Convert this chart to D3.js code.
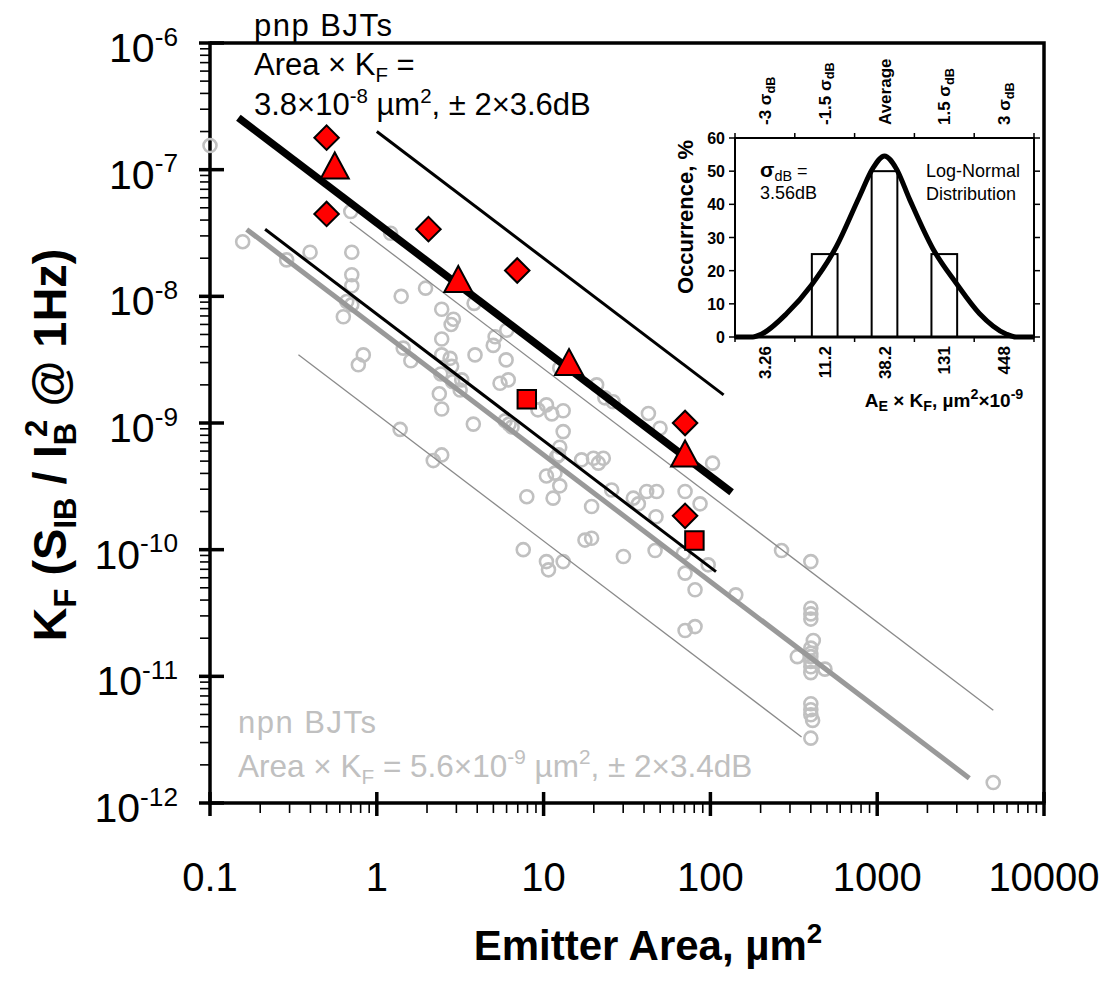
<!DOCTYPE html>
<html>
<head>
<meta charset="utf-8">
<script src="https://cdn.jsdelivr.net/npm/d3@7"></script>
<style>
  body { margin: 0; background: #fff; }
  svg { display: block; font-family: "Liberation Sans", Arial, Helvetica, sans-serif; }
</style>
</head>
<body>
<svg id="chart" width="1111" height="981"></svg>
<script>
// ---------- data ----------
// npn BJTs: emitter area (µm²) and K_F
const npnArea = [0.1, 0.157, 0.288, 0.398, 0.698, 0.708, 0.708, 0.708, 0.66, 0.708, 0.63,
  1.21, 1.40, 1.96, 0.83, 0.775, 2.45, 2.88, 2.79, 3.83, 2.45, 1.44, 1.60, 2.45, 2.75, 3.88,
  5.12, 4.99, 6.01, 5.96, 2.81, 2.42, 2.85, 3.16, 3.23, 2.37, 2.45, 3.79, 5.48, 6.14,
  5.88, 6.21, 6.47, 1.38, 2.45, 2.18, 10.4, 9.25, 11.2, 13.1, 12.5, 20.8, 23.3, 26.1,
  42.5, 49.9, 13.1, 12.5, 12.0, 12.3, 16.9, 19.9, 22.8, 21.3, 10.4, 11.7, 12.5, 11.4, 7.93,
  19.4, 25.6, 34.5, 37.0, 41.5, 47.6, 70.5, 86.7, 47.2, 103, 17.7, 19.4, 7.55, 10.4, 10.7,
  13.1, 30.1, 46.6, 68.9, 70.5, 97.0, 80.9, 142, 70.5, 80.9, 267, 400, 400, 400, 400, 414,
  400, 400, 400, 400, 400, 400, 332, 486, 400, 400, 400, 410, 400, 4960];
const npnKF = [1.55e-7, 2.7e-8, 1.94e-8, 2.23e-8, 4.67e-8, 2.23e-8, 1.48e-8, 1.21e-8, 9.1e-9, 8.6e-9, 6.9e-9,
  3.15e-8, 1.0e-8, 1.16e-8, 3.45e-9, 2.88e-9, 7.9e-9, 6.6e-9, 6.0e-9, 8.8e-9, 4.6e-9, 3.9e-9, 3.1e-9, 3.45e-9, 3.24e-9, 3.45e-9,
  4.8e-9, 4.1e-9, 5.4e-9, 3.15e-9, 2.8e-9, 2.44e-9, 2.12e-9, 1.82e-9, 2.19e-9, 1.7e-9, 1.29e-9, 9.8e-10, 2.06e-9, 2.19e-9,
  1.04e-9, 9.8e-10, 9.3e-10, 8.9e-10, 5.6e-10, 5.05e-10, 1.39e-9, 1.27e-9, 1.18e-9, 1.25e-9, 2.72e-9, 2.0e-9, 1.58e-9, 1.47e-9,
  1.19e-9, 9.1e-10, 8.55e-10, 6.44e-10, 5.43e-10, 5.6e-10, 5.12e-10, 5.27e-10, 5.27e-10, 4.82e-10, 3.82e-10, 4.02e-10, 3.19e-10, 2.55e-10, 2.62e-10,
  2.19e-10, 2.96e-10, 2.55e-10, 2.3e-10, 2.88e-10, 2.88e-10, 2.88e-10, 2.3e-10, 1.82e-10, 4.82e-10, 1.19e-10, 1.23e-10, 1.0e-10, 8.05e-11, 6.93e-11,
  8.05e-11, 8.83e-11, 9.84e-11, 9.37e-11, 6.53e-11, 7.59e-11, 4.82e-11, 4.4e-11, 2.3e-11, 2.47e-11, 9.84e-11, 8.05e-11, 3.45e-11, 3.11e-11, 2.83e-11, 1.92e-11,
  1.67e-11, 1.52e-11, 1.43e-11, 1.31e-11, 1.19e-11, 1.07e-11, 1.43e-11, 1.14e-11, 6.08e-12, 5.45e-12, 4.97e-12, 4.49e-12, 3.25e-12, 1.45e-12];

// pnp BJTs, three device families
const pnpDiamondArea = [0.5, 0.5, 2.04, 6.95, 70.5, 70.5];
const pnpDiamondKF   = [1.79e-7, 4.47e-8, 3.39e-8, 1.6e-8, 1.0e-9, 1.85e-10];
const pnpTriangleArea = [0.56, 3.08, 14.2, 70.5];
const pnpTriangleKF   = [1.07e-7, 1.36e-8, 3.0e-9, 5.7e-10];
const pnpSquareArea = [7.93, 80.2];
const pnpSquareKF   = [1.54e-9, 1.18e-10];

// Area × K_F fits: centre line and ± 2σ bounds
const fitProduct   = [3.8e-8, 2.0e-7, 7.24e-9, 5.6e-9, 2.68e-8, 1.17e-9];
const fitAreaStart = [0.148, 1.0, 0.214, 0.166, 0.69, 0.339];
const fitAreaEnd   = [134, 120, 108, 3565, 4966, 352];
const fitStyle     = ["pnpFit", "pnpBound", "pnpBound", "npnFit", "npnBound", "npnBound"];

// axis ticks
const xTickValues = [0.1, 1, 10, 100, 1000, 10000];
const xTickLabels = ["0.1", "1", "10", "100", "1000", "10000"];
const yTickExponents = [-6, -7, -8, -9, -10, -11, -12];

// inset: distribution of Area × K_F in units of σ
const insetCenters = [-3, -1.5, 0, 1.5, 3];
const insetBottomLabels = ["3.26", "11.2", "38.2", "131", "448"];
const insetTopPrefix = ["-3 ", "-1.5 ", "Average", "1.5 ", "3 "];
const insetTopSigma = [true, true, false, true, true];
const histCenters = [-1.5, 0, 1.5];
const histPercent = [25, 50, 25];
const curveSigma   = [-3.75, -3.3, -3.08, -2.46, -1.83, -1.21, -0.63, -0.29, 0, 0.29, 0.63, 1.21, 1.80, 2.38, 3.05, 3.3, 3.75];
const curvePercent = [0, 0, 0.9, 7, 15.7, 27.2, 42.3, 50.9, 54.6, 50.9, 41.5, 26.7, 16.2, 7.1, 0.9, 0, 0];
const insetYTicks = [0, 10, 20, 30, 40, 50, 60];

// ---------- helpers ----------
const svg = d3.select("#chart");

// text with sub/superscript segments: [text, mode, dx]
function rich(sel, segs, size, small = 0.66) {
  let cur = 0;
  segs.forEach(([t, m, dx]) => {
    const shift = m === "sup" ? -0.4 * size : m === "sub" ? 0.22 * size : 0;
    const ts = sel.append("tspan")
      .attr("dy", shift - cur)
      .attr("font-size", m === "n" ? size : small * size)
      .text(t);
    if (dx) ts.attr("dx", dx);
    cur = shift;
  });
  return sel;
}

// ---------- main chart ----------
const x = d3.scaleLog().domain([0.1, 10000]).range([210, 1044]);
const y = d3.scaleLog().domain([1e-12, 1e-6]).range([803, 43]);

const gMain = svg.append("g");

// frame: top and right edges
gMain.append("path")
  .attr("d", `M${x(0.1)},${y(1e-6)}H${x(10000)}V${y(1e-12)}`)
  .attr("fill", "none").attr("stroke", "#000").attr("stroke-width", 3.5);

// y axis
const yAxisG = gMain.append("g");
yAxisG.append("line").attr("x1", 210).attr("x2", 210).attr("y1", y(1e-6) - 1.5).attr("y2", y(1e-12) + 1.5)
  .attr("stroke", "#000").attr("stroke-width", 3.5);
y.ticks().forEach(v => {
  const major = Math.abs(Math.log10(v) - Math.round(Math.log10(v))) < 1e-6;
  yAxisG.append("line")
    .attr("x1", major ? 199 : 200).attr("x2", major ? 224 : 210)
    .attr("y1", y(v)).attr("y2", y(v))
    .attr("stroke", "#000").attr("stroke-width", major ? 3.5 : 1.6);
});
yTickExponents.forEach(e => {
  const t = yAxisG.append("text")
    .attr("x", 178).attr("y", y(Math.pow(10, e)) + 19)
    .attr("text-anchor", "end").attr("fill", "#000");
  rich(t, [["10", "n"], [String(e), "sup"]], 41, 0.64);
});

// x axis
const xAxisG = gMain.append("g");
xAxisG.append("line").attr("x1", 208).attr("x2", x(10000) + 1.5).attr("y1", 803).attr("y2", 803)
  .attr("stroke", "#000").attr("stroke-width", 3.5);
x.ticks().forEach(v => {
  const major = Math.abs(Math.log10(v) - Math.round(Math.log10(v))) < 1e-6;
  xAxisG.append("line")
    .attr("x1", x(v)).attr("x2", x(v))
    .attr("y1", major ? 792 : 803).attr("y2", major ? 816 : 813)
    .attr("stroke", "#000").attr("stroke-width", major ? 3.5 : 1.6);
});
xTickValues.forEach((v, i) => {
  xAxisG.append("text")
    .attr("x", x(v)).attr("y", 891)
    .attr("text-anchor", "middle").attr("font-size", 40).attr("fill", "#000")
    .text(xTickLabels[i]);
});

// axis titles
rich(gMain.append("text").attr("x", 648).attr("y", 960).attr("text-anchor", "middle")
  .attr("font-weight", "bold"), [["Emitter Area, µm", "n"], ["2", "sup"]], 42);

rich(gMain.append("text")
  .attr("transform", "translate(66,445) rotate(-90)")
  .attr("text-anchor", "middle").attr("font-weight", "bold"),
  [["K", "n"], ["F", "sub"], [" (S", "n"], ["IB", "sub"], [" / I", "n"], ["B", "sub"], ["2", "sup", -14], [" @ 1Hz)", "n"]], 47);

// npn scatter
const gNpn = gMain.append("g");
gNpn.selectAll("circle").data(npnArea).join("circle")
  .attr("cx", d => x(d))
  .attr("cy", (d, i) => y(npnKF[i]))
  .attr("r", 6.5)
  .attr("fill", "none").attr("stroke", "#c0c0c0").attr("stroke-width", 2.6);

// fit lines
const styles = {
  pnpFit:   { stroke: "#000", width: 7.5 },
  pnpBound: { stroke: "#000", width: 3 },
  npnFit:   { stroke: "#999", width: 5 },
  npnBound: { stroke: "#8a8a8a", width: 1.3 }
};
const gFits = gMain.append("g");
fitProduct.forEach((p, i) => {
  const s = styles[fitStyle[i]];
  gFits.append("line")
    .attr("x1", x(fitAreaStart[i])).attr("y1", y(p / fitAreaStart[i]))
    .attr("x2", x(fitAreaEnd[i])).attr("y2", y(p / fitAreaEnd[i]))
    .attr("stroke", s.stroke).attr("stroke-width", s.width);
});
// draw the npn group below the pnp lines
gFits.selectAll("line").filter((d, i) => fitStyle[i].startsWith("npn")).lower();

// pnp markers
const gPnp = gMain.append("g").attr("fill", "#ff0000").attr("stroke", "#000").attr("stroke-width", 2);
gPnp.selectAll("path.dia").data(pnpDiamondArea).join("path").attr("class", "dia")
  .attr("d", d3.symbol(d3.symbolSquare, 300)())
  .attr("transform", (d, i) => `translate(${x(d)},${y(pnpDiamondKF[i])}) rotate(45)`);
gPnp.selectAll("path.tri").data(pnpTriangleArea).join("path").attr("class", "tri")
  .attr("d", "M0,-13.5L14,12.5L-14,12.5Z")
  .attr("transform", (d, i) => `translate(${x(d)},${y(pnpTriangleKF[i])})`);
gPnp.selectAll("path.sq").data(pnpSquareArea).join("path").attr("class", "sq")
  .attr("d", d3.symbol(d3.symbolSquare, 340)())
  .attr("transform", (d, i) => `translate(${x(d)},${y(pnpSquareKF[i])})`);

// annotations
const ann = gMain.append("g").attr("font-size", 31);
ann.append("text").attr("x", 254).attr("y", 36).attr("letter-spacing", 1.5).text("pnp BJTs");
rich(ann.append("text").attr("x", 254).attr("y", 75), [["Area × K", "n"], ["F", "sub"], [" =", "n"]], 31);
rich(ann.append("text").attr("x", 254).attr("y", 115),
  [["3.8×10", "n"], ["-8", "sup"], [" µm", "n"], ["2", "sup"], [", ± 2×3.6dB", "n"]], 31);

const annN = gMain.append("g").attr("font-size", 31).attr("fill", "#c0c0c0");
annN.append("text").attr("x", 238).attr("y", 733).attr("letter-spacing", 1.5).text("npn BJTs");
rich(annN.append("text").attr("x", 238).attr("y", 777),
  [["Area × K", "n"], ["F", "sub"], [" = 5.6×10", "n"], ["-9", "sup"], [" µm", "n"], ["2", "sup"], [", ± 2×3.4dB", "n"]], 31.5);

// ---------- inset ----------
const xi = d3.scaleLinear().domain([-3.75, 3.75]).range([735, 1034]);
const yi = d3.scaleLinear().domain([0, 60]).range([337, 138]);
const gIn = svg.append("g");

gIn.append("rect").attr("x", 735).attr("y", 138).attr("width", 299).attr("height", 199)
  .attr("fill", "#fff").attr("stroke", "none");

// histogram bars
const binW = xi(1.5) - xi(0);
gIn.selectAll("rect.bar").data(histCenters).join("rect").attr("class", "bar")
  .attr("x", d => xi(d) - binW * 0.215)
  .attr("width", binW * 0.43)
  .attr("y", (d, i) => yi(histPercent[i]))
  .attr("height", (d, i) => yi(0) - yi(histPercent[i]))
  .attr("fill", "#fff").attr("stroke", "#000").attr("stroke-width", 2);

// distribution curve
gIn.append("path")
  .datum(curveSigma.map((s, i) => [s, curvePercent[i]]))
  .attr("d", d3.line().x(d => xi(d[0])).y(d => yi(d[1])).curve(d3.curveMonotoneX))
  .attr("fill", "none").attr("stroke", "#000").attr("stroke-width", 5).attr("stroke-linejoin", "round");

// frame
gIn.append("rect").attr("x", 735).attr("y", 138).attr("width", 299).attr("height", 199)
  .attr("fill", "none").attr("stroke", "#000").attr("stroke-width", 2);
gIn.append("line").attr("x1", 734).attr("x2", 1035).attr("y1", 337).attr("y2", 337)
  .attr("stroke", "#000").attr("stroke-width", 3);

// ticks
insetYTicks.forEach(v => {
  gIn.append("line").attr("x1", 729).attr("x2", 735).attr("y1", yi(v)).attr("y2", yi(v)).attr("stroke", "#000").attr("stroke-width", 1.5);
  gIn.append("line").attr("x1", 1034).attr("x2", 1040).attr("y1", yi(v)).attr("y2", yi(v)).attr("stroke", "#000").attr("stroke-width", 1.5);
  gIn.append("text").attr("x", 725).attr("y", yi(v) + 6).attr("text-anchor", "end")
    .attr("font-size", 16).attr("font-weight", "bold").text(v);
});
d3.range(-3.75, 3.76, 1.5).forEach(v => {
  gIn.append("line").attr("x1", xi(v)).attr("x2", xi(v)).attr("y1", 337).attr("y2", 342).attr("stroke", "#000").attr("stroke-width", 1.5);
  gIn.append("line").attr("x1", xi(v)).attr("x2", xi(v)).attr("y1", 133).attr("y2", 138).attr("stroke", "#000").attr("stroke-width", 1.5);
});
insetCenters.forEach((c, i) => {
  gIn.append("text")
    .attr("transform", `translate(${xi(c) + 6},346) rotate(-90)`)
    .attr("text-anchor", "end").attr("font-size", 17).attr("font-weight", "bold")
    .text(insetBottomLabels[i]);
  const t = gIn.append("text")
    .attr("transform", `translate(${xi(c) + 6},125) rotate(-90)`)
    .attr("text-anchor", "start").attr("font-weight", "bold");
  if (insetTopSigma[i]) rich(t, [[insetTopPrefix[i] + "σ", "n"], ["dB", "sub"]], 17, 0.75);
  else rich(t, [[insetTopPrefix[i], "n"]], 17);
});

// inset titles
rich(gIn.append("text").attr("x", 944).attr("y", 407).attr("text-anchor", "middle").attr("font-weight", "bold"),
  [["A", "n"], ["E", "sub"], [" × K", "n"], ["F", "sub"], [", µm", "n"], ["2", "sup"], ["×10", "n"], ["-9", "sup"]], 19, 0.75);
gIn.append("text").attr("transform", "translate(693,217) rotate(-90)")
  .attr("text-anchor", "middle").attr("font-size", 22).attr("font-weight", "bold").text("Occurrence, %");

// inset notes
rich(gIn.append("text").attr("x", 760).attr("y", 177), [["σ", "n"], ["dB", "sub"], [" =", "n"]], 18, 0.8)
  .select("tspan").attr("font-weight", "bold").attr("font-size", 21);
gIn.append("text").attr("x", 760).attr("y", 199).attr("font-size", 18).text("3.56dB");
gIn.append("text").attr("x", 926).attr("y", 177).attr("font-size", 18).text("Log-Normal");
gIn.append("text").attr("x", 926).attr("y", 200).attr("font-size", 18).text("Distribution");
</script>
</body>
</html>
